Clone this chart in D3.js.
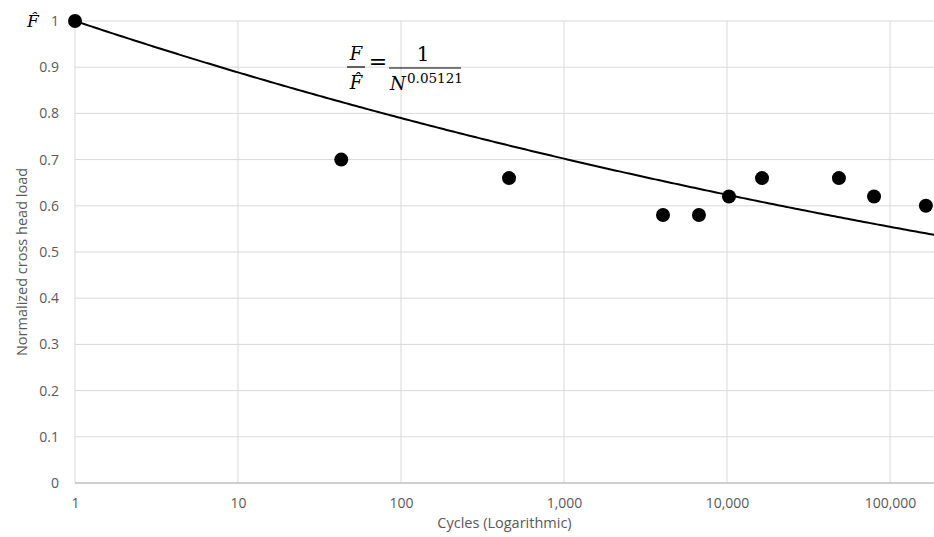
<!DOCTYPE html>
<html>
<head>
<meta charset="utf-8">
<script src="https://cdn.jsdelivr.net/npm/d3@7"></script>
<style>
  html, body { margin: 0; padding: 0; background: #fff; }
  svg { display: block; }
</style>
</head>
<body>
<svg id="chart" width="934" height="537"></svg>
<script>
// ---- data ----
const cycles = [1, 43, 460, 4050, 6730, 10280, 16400, 48600, 79800, 166000];
const normLoad = [1.0, 0.70, 0.66, 0.58, 0.58, 0.62, 0.66, 0.66, 0.62, 0.60];
const xTickValues = [1, 10, 100, 1000, 10000, 100000];
const xTickLabels = ["1", "10", "100", "1,000", "10,000", "100,000"];
const yTickValues = [0, 0.1, 0.2, 0.3, 0.4, 0.5, 0.6, 0.7, 0.8, 0.9, 1];
const yTickLabels = ["0", "0.1", "0.2", "0.3", "0.4", "0.5", "0.6", "0.7", "0.8", "0.9", "1"];
const fitExponent = 0.05121; // trendline F/F̂ = 1 / N^0.05121
const xDomain = [1, 200000];
const yDomain = [0, 1];

(function () {
const svg = d3.select("#chart");
const W = 934, H = 537;
const pLeft = 75, pTop = 21, pBottom = 483;
const pRight = pLeft + Math.log10(xDomain[1]) * 163;

const x = d3.scaleLog().domain(xDomain).range([pLeft, pRight]);
const y = d3.scaleLinear().domain(yDomain).range([pBottom, pTop]);

const font = "'Open Sans', 'Liberation Sans', sans-serif";
const tickColor = "#595959";
const gridColor = "#d9d9d9";

// grid
const g = svg.append("g");
g.selectAll(".hg").data(yTickValues.filter(v => v > 0)).join("line")
  .attr("x1", pLeft).attr("x2", W).attr("y1", d => y(d)).attr("y2", d => y(d))
  .attr("stroke", gridColor).attr("stroke-width", 1);
g.selectAll(".vg").data(xTickValues).join("line")
  .attr("x1", d => x(d)).attr("x2", d => x(d)).attr("y1", pTop).attr("y2", pBottom)
  .attr("stroke", gridColor).attr("stroke-width", 1);
g.append("line").attr("x1", pLeft).attr("x2", W).attr("y1", pBottom).attr("y2", pBottom)
  .attr("stroke", "#bfbfbf").attr("stroke-width", 1.3);

const xAxis = d3.axisBottom(x).tickValues(xTickValues)
  .tickFormat((d, i) => xTickLabels[i]).tickSize(0).tickPadding(15);
const xa = svg.append("g").attr("transform", `translate(0,${pBottom})`).call(xAxis);
xa.select(".domain").remove();
xa.selectAll("text").attr("fill", tickColor).attr("font-size", 14).attr("font-family", font);

const yAxis = d3.axisLeft(y).tickValues(yTickValues)
  .tickFormat((d, i) => yTickLabels[i]).tickSize(0).tickPadding(16);
const ya = svg.append("g").attr("transform", `translate(${pLeft},0)`).call(yAxis);
ya.select(".domain").remove();
ya.selectAll("text").attr("fill", tickColor).attr("font-size", 14).attr("font-family", font);

svg.append("text").attr("x", (pLeft + 934) / 2).attr("y", 528)
  .attr("text-anchor", "middle").attr("fill", tickColor)
  .attr("font-size", 14.5).attr("font-family", font).text("Cycles (Logarithmic)");
svg.append("text").attr("transform", `translate(27,262) rotate(-90)`)
  .attr("text-anchor", "middle").attr("fill", tickColor)
  .attr("font-size", 14.5).attr("font-family", font).text("Normalized cross head load");

// trendline
const fitN = d3.range(0, 5.31, 0.02).map(e => Math.pow(10, e));
const line = d3.line().x(d => x(d)).y(d => y(Math.pow(d, -fitExponent)));
svg.append("path").datum(fitN).attr("d", line)
  .attr("fill", "none").attr("stroke", "#000").attr("stroke-width", 2);

// points
svg.selectAll(".pt").data(cycles).join("circle")
  .attr("cx", d => x(d)).attr("cy", (d, i) => y(normLoad[i]))
  .attr("r", 7).attr("fill", "#000");

const mathFont = "'DejaVu Serif', 'Liberation Serif', serif";
svg.append("text").attr("x", 27).attr("y", 27).attr("font-family", mathFont)
  .attr("font-style", "italic").attr("font-size", 17).attr("fill", "#000").text("F\u0302");

const fg = svg.append("g").attr("font-family", mathFont).attr("font-style", "italic").attr("fill", "#000");
fg.append("text").attr("x", 356).attr("y", 60).attr("text-anchor", "middle").attr("font-size", 18).text("F");
fg.append("line").attr("x1", 347).attr("x2", 365).attr("y1", 67).attr("y2", 67).attr("stroke", "#000").attr("stroke-width", 1.2);
fg.append("text").attr("x", 356).attr("y", 89).attr("text-anchor", "middle").attr("font-size", 18).text("F\u0302");
fg.append("text").attr("x", 378).attr("y", 69).attr("text-anchor", "middle").attr("font-style", "normal").attr("font-size", 22).text("=");
fg.append("text").attr("x", 423).attr("y", 61).attr("text-anchor", "middle").attr("font-style", "normal").attr("font-size", 20).text("1");
fg.append("line").attr("x1", 389).attr("x2", 461).attr("y1", 68).attr("y2", 68).attr("stroke", "#000").attr("stroke-width", 1.2);
fg.append("text").attr("x", 390).attr("y", 90).attr("font-size", 18).text("N");
fg.append("text").attr("x", 407).attr("y", 83).attr("font-style", "normal").attr("font-size", 13.5).text("0.05121");
})();
</script>
</body>
</html>
